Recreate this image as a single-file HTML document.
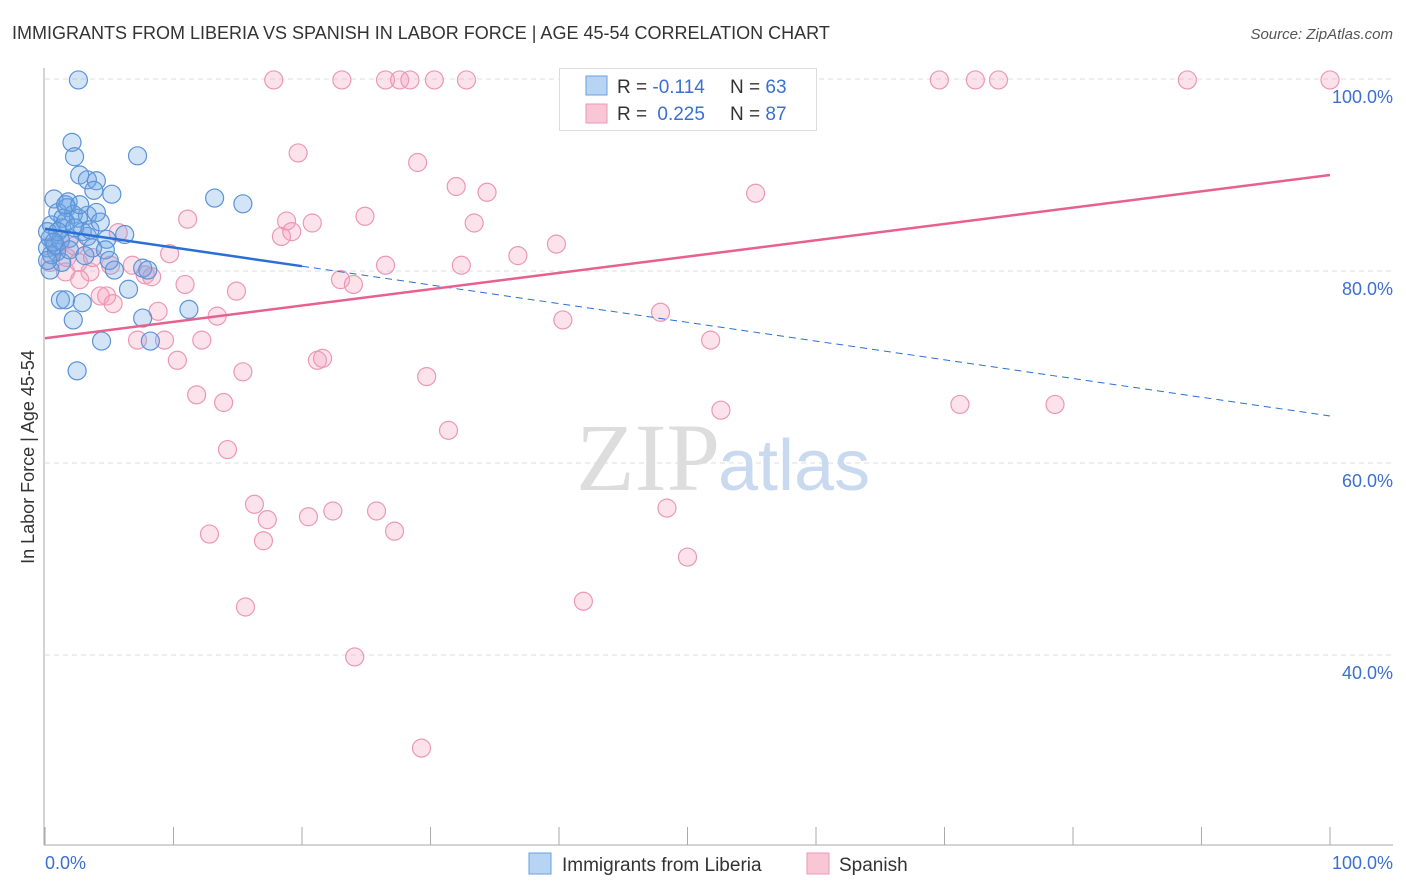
<!DOCTYPE html>
<html><head><meta charset="utf-8"><style>
body{margin:0;background:#fff;font-family:"Liberation Sans",sans-serif;}
svg{display:block}
</style></head><body>
<svg id="chart" width="1406" height="892">
<text x="12" y="39" font-size="18" fill="#333">IMMIGRANTS FROM LIBERIA VS SPANISH IN LABOR FORCE | AGE 45-54 CORRELATION CHART</text>
<text x="1393" y="39" font-size="15" fill="#555" font-style="italic" text-anchor="end">Source: ZipAtlas.com</text>
<g id="grid"></g>
<text x="720" y="490" font-size="96" fill="#ddd" text-anchor="end" font-family="Liberation Serif">ZIP</text>
<text x="718" y="490" font-size="72" fill="#c9daf0">atlas</text>
<line x1="44" y1="68" x2="44" y2="845" stroke="#aaa"/>
<line x1="44" y1="845" x2="1393" y2="845" stroke="#aaa"/>
<g id="xticks"></g>
<g id="ylabels"></g>
<text x="45" y="869" font-size="18" fill="#3b6fd0">0.0%</text>
<text x="1393" y="869" font-size="18" fill="#3b6fd0" text-anchor="end">100.0%</text>
<text transform="translate(34,457) rotate(-90)" font-size="18" fill="#333" text-anchor="middle">In Labor Force | Age 45-54</text>
<g id="pts"></g>
<g id="lines"></g>
<g>
<rect x="559.5" y="68.5" width="257" height="62" fill="#fff" stroke="#ddd"/>
<rect x="586" y="76" width="21" height="19" fill="#b8d4f5" stroke="#6a9ee0"/>
<rect x="586" y="104" width="21" height="19" fill="#f9c6d6" stroke="#eb98b5"/>
<text x="617" y="93" font-size="19" fill="#333">R = <tspan fill="#3b6fd0">-0.114</tspan></text>
<text x="730" y="93" font-size="19" fill="#333">N = <tspan fill="#3b6fd0">63</tspan></text>
<text x="617" y="120" font-size="19" fill="#333">R = <tspan fill="#3b6fd0" dx="5">0.225</tspan></text>
<text x="730" y="120" font-size="19" fill="#333">N = <tspan fill="#3b6fd0">87</tspan></text>
</g>
<g>
<rect x="529" y="853" width="22" height="21" fill="#b8d4f5" stroke="#6a9ee0"/>
<text x="562" y="871" font-size="19" fill="#333">Immigrants from Liberia</text>
<rect x="807" y="853" width="22" height="21" fill="#f9c6d6" stroke="#eb98b5"/>
<text x="839" y="871" font-size="19" fill="#333">Spanish</text>
</g>
</svg>
<script>
const yTicks=[100,80,60,40];
const yTickLabels=["100.0%","80.0%","60.0%","40.0%"];
const blueX=[2.6,2.1,2.3,7.2,2.7,3.3,4.0,3.8,5.2,0.7,13.2,15.4,1.8,1.0,1.7,2.2,3.3,4.0,1.4,2.6,0.5,1.3,2.9,1.9,3.3,4.8,6.2,0.4,0.2,0.9,3.7,4.7,1.3,3.1,5.0,5.4,7.6,8.0,0.4,6.5,1.2,1.6,2.9,7.6,11.2,2.2,4.4,8.2,2.5,0.5,0.8,0.2,1.2,1.6,2.3,0.2,3.5,1.0,1.6,2.7,4.3,1.9,0.7];
const blueY=[99.9,93.4,91.9,92.0,90.0,89.5,89.4,88.4,88.0,87.5,87.6,87.0,87.2,86.1,86.6,85.9,85.8,86.1,85.5,85.5,84.8,84.5,84.1,83.4,83.6,83.3,83.8,83.4,82.4,82.0,82.4,82.2,80.9,81.6,81.1,80.1,80.3,80.1,80.1,78.1,77.0,77.0,76.7,75.1,76.0,74.9,72.7,72.7,69.6,81.7,82.7,81.1,83.2,85.1,84.5,84.1,84.3,84.1,86.9,86.9,85.1,82.2,83.0];
const pinkX=[17.8,23.1,26.5,27.6,28.4,30.3,32.8,46.6,55.9,69.6,72.4,74.2,88.9,100,19.7,29.0,32.0,34.4,55.3,11.1,18.8,20.8,24.9,33.4,18.4,19.2,5.7,39.8,36.8,32.4,26.5,9.7,0.9,2.3,1.7,6.8,3.5,7.8,8.3,23.0,24.0,10.9,2.7,14.9,4.3,4.8,5.3,8.8,13.4,40.3,47.9,7.2,9.3,12.2,51.8,10.3,21.2,21.6,29.7,15.4,11.8,13.9,52.6,71.2,78.6,31.4,14.2,16.3,17.3,20.5,22.4,25.8,27.2,12.8,17.0,48.4,50.0,15.6,41.9,24.1,29.3,3.7,1.2,0.4,1.6,5.1,2.6];
const pinkY=[99.9,99.9,99.9,99.9,99.9,99.9,99.9,99.9,99.9,99.9,99.9,99.9,99.9,99.9,92.3,91.3,88.8,88.2,88.1,85.4,85.2,85.0,85.7,85.0,83.6,84.1,84.0,82.8,81.6,80.6,80.6,81.8,82.5,82.6,81.4,80.6,79.9,79.6,79.4,79.1,78.6,78.6,79.1,77.9,77.4,77.4,76.6,75.8,75.3,74.9,75.7,72.8,72.8,72.8,72.8,70.7,70.7,70.9,69.0,69.5,67.1,66.3,65.5,66.1,66.1,63.4,61.4,55.7,54.1,54.4,55.0,55.0,52.9,52.6,51.9,55.3,50.2,45.0,45.6,39.8,30.3,81.4,83.2,80.9,79.9,80.6,80.9];
const blueTrend=[84.4,64.9];
const pinkTrend=[73.0,90.0];
const NS="http://www.w3.org/2000/svg";
const sx=v=>45+v*12.85;
const sy=v=>1039-v*9.6;
function mk(tag,attrs,parent){const e=document.createElementNS(NS,tag);for(const k in attrs)e.setAttribute(k,attrs[k]);parent.appendChild(e);return e;}
const grid=document.getElementById('grid'),yl=document.getElementById('ylabels'),xt=document.getElementById('xticks');
yTicks.forEach((t,i)=>{
 const l=mk('line',{x1:45,x2:1393,y1:sy(t),y2:sy(t),stroke:'#ddd','stroke-dasharray':'5,4'},grid);
 
 
 const tx=mk('text',{x:1393,y:sy(t)+24,'font-size':18,fill:'#3b6fd0','text-anchor':'end'},yl);
 tx.textContent=yTickLabels[i];
 
 
});
for(let i=0;i<=10;i++){
 const t=mk('line',{x1:sx(i*10),x2:sx(i*10),y1:827,y2:845,stroke:'#aaa'},xt);
 
 
}
const pts=document.getElementById('pts');
pinkX.forEach((x,i)=>{
 const c=mk('circle',{cx:sx(x),cy:sy(pinkY[i]),r:9,fill:'rgba(244,160,188,0.3)',stroke:'#eb98b5','stroke-width':1.2},pts);
 
 
});
blueX.forEach((x,i)=>{
 const c=mk('circle',{cx:sx(x),cy:sy(blueY[i]),r:9,fill:'rgba(110,165,230,0.3)',stroke:'#5b93d8','stroke-width':1.2},pts);
 
 
});
const lines=document.getElementById('lines');
const bAt=x=>blueTrend[0]+(blueTrend[1]-blueTrend[0])*x/100;
let b1=mk('line',{x1:sx(0),y1:sy(bAt(0)),x2:sx(20),y2:sy(bAt(20)),stroke:'#2a6fd6','stroke-width':2.5},lines);


let b2=mk('line',{x1:sx(20),y1:sy(bAt(20)),x2:sx(100),y2:sy(bAt(100)),stroke:'#2a6fd6','stroke-width':1,'stroke-dasharray':'7,5'},lines);


let p1=mk('line',{x1:sx(0),y1:sy(pinkTrend[0]),x2:sx(100),y2:sy(pinkTrend[1]),stroke:'#e8608e','stroke-width':2.5},lines);


</script>
</body></html>
